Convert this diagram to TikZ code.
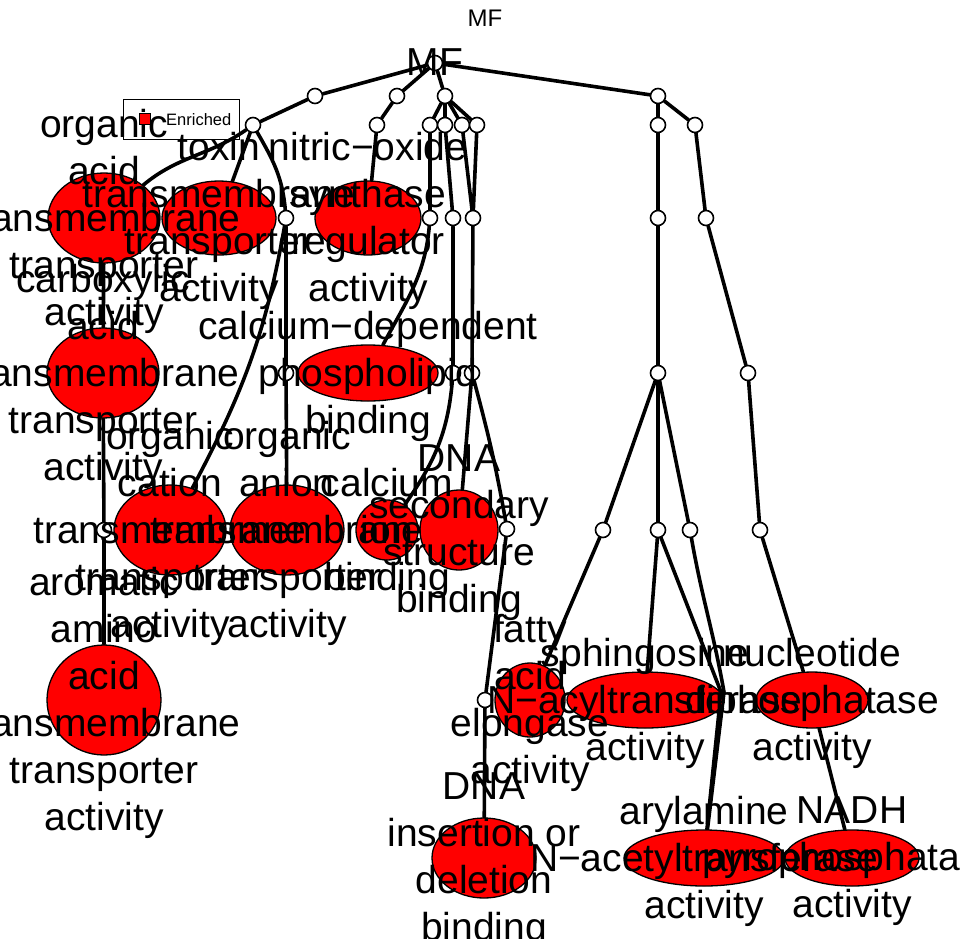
\documentclass[tikz,border=0pt]{standalone}
\usepackage{fontspec}
\setmainfont{Liberation Sans}
\usetikzlibrary{shapes.geometric}
\pgfdeclarelayer{edges}
\pgfdeclarelayer{labels}
\pgfdeclarelayer{top}
\pgfsetlayers{edges,main,labels,top}
\begin{document}
\begin{tikzpicture}[x=1pt,y=-1pt,
  edge/.style={line width=3.6pt, line cap=round},
  dot/.style={circle, draw, fill=white, line width=1.6pt, minimum size=15pt, inner sep=0pt},
  enr/.style={ellipse, draw, fill=red, line width=1.3pt, inner sep=0pt},
  lbl/.style={align=center, font=\fontsize{39}{47}\selectfont, inner sep=0pt, yshift=-3pt}]
\useasboundingbox (0,0) rectangle (961,938);

% ---- enriched terms (ellipses)
\node[enr, minimum width=112pt, minimum height=90pt] (OA) at (104,218) {};
\node[enr, minimum width=114pt, minimum height=74pt] (TOX) at (219,218) {};
\node[enr, minimum width=106pt, minimum height=74pt] (NO) at (368,218) {};
\node[enr, minimum width=112pt, minimum height=90pt] (CARB) at (103,373) {};
\node[enr, minimum width=140pt, minimum height=56pt] (PHOS) at (368,373) {};
\node[enr, minimum width=112pt, minimum height=90pt] (CAT) at (170,530) {};
\node[enr, minimum width=114pt, minimum height=90pt] (AN) at (287,530) {};
\node[enr, minimum width=62pt, minimum height=60pt] (CA) at (387,530) {};
\node[enr, minimum width=78pt, minimum height=80pt] (DNAS) at (459,530) {};
\node[enr, minimum width=114pt, minimum height=110pt] (ARO) at (104,700) {};
\node[enr, minimum width=70pt, minimum height=74pt] (FA) at (530,700) {};
\node[enr, minimum width=156pt, minimum height=56pt] (SPH) at (645,700) {};
\node[enr, minimum width=112pt, minimum height=56pt] (NUC) at (812,700) {};
\node[enr, minimum width=104pt, minimum height=80pt] (DNAI) at (484,858) {};
\node[enr, minimum width=160pt, minimum height=56pt] (ARYL) at (704,858) {};
\node[enr, minimum width=134pt, minimum height=56pt] (NADH) at (852,858) {};

% ---- other terms (small circles)
\node[dot] (root) at (435,63) {};
\node[dot] (a1) at (315,96) {};
\node[dot] (a2) at (397,96) {};
\node[dot] (a3) at (445,96) {};
\node[dot] (a4) at (658,96) {};
\node[dot] (b1) at (253,125) {};
\node[dot] (b2) at (377,125) {};
\node[dot] (b3) at (430,125) {};
\node[dot] (b4) at (445,125) {};
\node[dot] (b5) at (462,125) {};
\node[dot] (b6) at (477,125) {};
\node[dot] (b7) at (658,125) {};
\node[dot] (b8) at (695,125) {};
\node[dot] (c1) at (286,218) {};
\node[dot] (c2) at (430,218) {};
\node[dot] (c3) at (453,218) {};
\node[dot] (c4) at (473,218) {};
\node[dot] (c5) at (658,218) {};
\node[dot] (c6) at (706,218) {};
\node[dot] (d1) at (286,373) {};
\node[dot] (d2) at (453,373) {};
\node[dot] (d3) at (472,373) {};
\node[dot] (d4) at (658,373) {};
\node[dot] (d5) at (748,373) {};
\node[dot] (e1) at (104,530) {};
\node[dot] (e2) at (507,529) {};
\node[dot] (e3) at (603,530) {};
\node[dot] (e4) at (658,530) {};
\node[dot] (e5) at (690,530) {};
\node[dot] (e6) at (760,530) {};
\node[dot] (f1) at (485,700) {};
\coordinate (v1) at (721,692);
\coordinate (v2) at (724,692);

% ---- edges
\begin{pgfonlayer}{edges}
\fill[white] (0,0) rectangle (961,938);
\draw[edge] (root) -- (a1) -- (b1);
\draw[edge] (root) -- (a2) -- (b2) -- (NO);
\draw[edge] (root) -- (a3);
\draw[edge] (root) -- (a4);
\draw[edge] (a3) -- (b3);
\draw[edge] (a3) -- (b4);
\draw[edge] (a3) -- (b5);
\draw[edge] (a3) -- (b6);
\draw[edge] (a4) -- (b7);
\draw[edge] (a4) -- (b8);
\draw[edge] (b1) to[out=-145,in=40] (OA);
\draw[edge] (b1) -- (TOX);
\draw[edge] (b1) to[out=-60,in=95] (c1);
\draw[edge] (c1) -- (d1) -- (AN);
\draw[edge] (c1) to[out=-100,in=62] (CAT);
\draw[edge] (OA) -- (CARB) -- (e1) -- (ARO);
\draw[edge] (b3) -- (c2);
\draw[edge] (c2) to[out=-95,in=62] (PHOS);
\draw[edge] (b4) -- (c3) -- (d2);
\draw[edge] (b5) -- (c4);
\draw[edge] (b6) -- (c4);
\draw[edge] (c4) -- (d3);
\draw[edge] (d2) to[out=-95,in=55] (CA);
\draw[edge] (d3) -- (DNAS);
\draw[edge] (d3) to[out=-75,in=100] (e2);
\draw[edge] (e2) -- (f1) -- (DNAI);
\draw[edge] (b7) -- (c5) -- (d4);
\draw[edge] (d4) -- (e3);
\draw[edge] (d4) -- (e4);
\draw[edge] (d4) -- (e5);
\draw[edge] (e3) -- (FA);
\draw[edge] (e4) -- (SPH);
\draw[edge] (e4) -- (v1) -- (ARYL);
\draw[edge] (e5) to[out=-80,in=100] (v2) -- (ARYL);
\draw[edge] (b8) -- (c6) -- (d5) -- (e6) -- (NUC) -- (NADH);
\end{pgfonlayer}

% ---- labels
\begin{pgfonlayer}{labels}
\node[lbl] (OAl) at (OA) {organic\\acid\\transmembrane\\transporter\\activity};
\node[lbl] (TOXl) at (TOX) {toxin\\transmembrane\\transporter\\activity};
\node[lbl] (NOl) at (NO) {nitric−oxide\\synthase\\regulator\\activity};
\node[lbl] (CARBl) at (CARB) {carboxylic\\acid\\transmembrane\\transporter\\activity};
\node[lbl] (PHOSl) at (PHOS) {calcium−dependent\\phospholipid\\binding};
\node[lbl] (CATl) at (CAT) {organic\\cation\\transmembrane\\transporter\\activity};
\node[lbl] (ANl) at (AN) {organic\\anion\\transmembrane\\transporter\\activity};
\node[lbl] (CAl) at (CA) {calcium\\ion\\binding};
\node[lbl] (DNASl) at (DNAS) {DNA\\secondary\\structure\\binding};
\node[lbl] (AROl) at (ARO) {aromatic\\amino\\acid\\transmembrane\\transporter\\activity};
\node[lbl] (FAl) at (FA) {fatty\\acid\\elongase\\activity};
\node[lbl] (SPHl) at (SPH) {sphingosine\\N−acyltransferase\\activity};
\node[lbl] (NUCl) at (NUC) {nucleotide\\diphosphatase\\activity};
\node[lbl] (DNAIl) at (DNAI) {DNA\\insertion or\\deletion\\binding};
\node[lbl] (ARYLl) at (ARYL) {arylamine\\N−acetyltransferase\\activity};
\node[lbl] (NADHl) at (NADH) {NADH\\pyrophosphatase\\activity};
\node[font=\fontsize{39}{40}\selectfont, inner sep=0pt] (rootl) at (435,62) {MF};
\end{pgfonlayer}

% ---- title and legend
\begin{pgfonlayer}{top}
\node[font=\fontsize{24}{26}\selectfont, inner sep=0pt] (title) at (485,18) {MF};
\node[draw, line width=0.8pt, minimum width=116pt, minimum height=40pt, inner sep=0pt] (leg) at (181,119) {};
\node[draw, fill=red, line width=0.8pt, minimum size=11pt, inner sep=0pt] (legsq) at (144.5,119) {};
\node[font=\fontsize{16.5}{18}\selectfont, anchor=west, inner sep=0pt] (legtxt) at (166,119.5) {Enriched};
\end{pgfonlayer}
\end{tikzpicture}
\end{document}
